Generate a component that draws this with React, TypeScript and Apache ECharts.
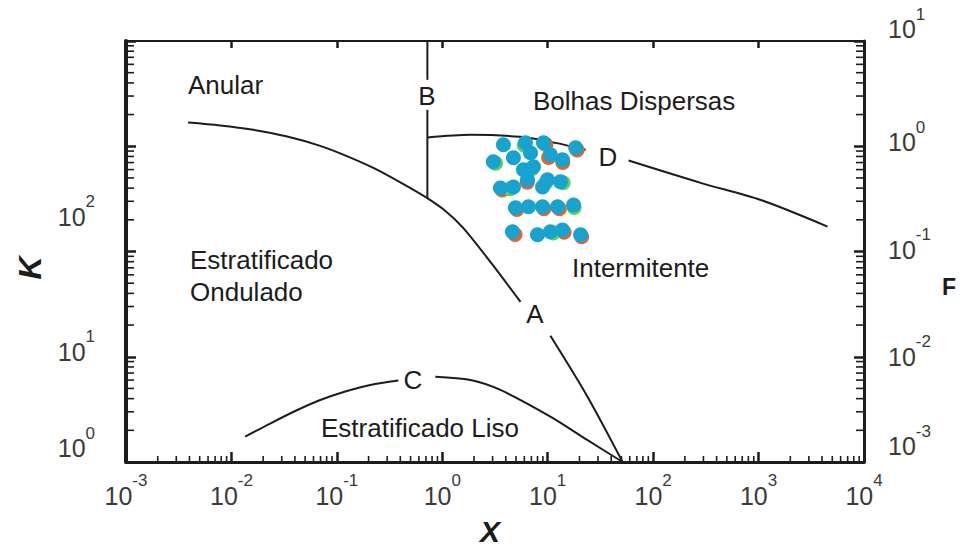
import React, { useEffect, useRef } from 'react';
import * as echarts from 'echarts';

// ---- tick label exponents ----
const xExponents = [-3, -2, -1, 0, 1, 2, 3, 4];
const kExponents = [0, 1, 2];
const fExponents = [-3, -2, -1, 0, 1];

// ---- boundary curves [X, K] ----
const curveAUpper = [[0.00388, 1680], [0.00781, 1577], [0.0161, 1432], [0.033, 1242], [0.0695, 1009], [0.1227, 811], [0.222, 623], [0.4, 454], [0.69, 330], [1.07, 243], [1.585, 167], [2.86, 79.6], [5.52, 33.2]];
const curveALower = [[10.6, 15.8], [23.9, 4.15], [51.3, 1]];
const curveBUpper = [[0.722, 10000], [0.722, 4277]];
const curveBLower = [[0.722, 2218], [0.722, 322]];
const curveDLeft = [[0.722, 1210], [1.85, 1283], [5.52, 1228], [11.86, 1077], [22.9, 925]];
const curveDRight = [[58.5, 731], [282, 449], [1049, 309], [4510, 172.6]];
const curveCLeft = [[0.01349, 1.74], [0.0233, 2.32], [0.0403, 3.05], [0.0695, 3.88], [0.1202, 4.68], [0.2075, 5.4], [0.383, 5.95]];
const curveCRight = [[0.859, 6.47], [1.85, 6.02], [3.56, 4.84], [10.6, 2.7], [23.7, 1.62], [51.3, 1]];

// ---- measured points [X, K] ----
const pointsOrange = [[19.0, 920], [7.0, 610], [10.2, 780], [13.9, 700], [3.7, 385], [5.1, 250], [9.2, 255], [12.9, 255], [4.9, 145], [21.0, 138], [14.3, 152], [6.4, 455], [9.6, 1040]];
const pointsGreen = [[3.2, 690], [9.5, 445], [7.1, 610], [17.8, 262], [11.3, 150], [14.0, 450], [6.0, 1020], [4.4, 395]];
const pointsCyan = [[3.8, 1031], [6.15, 1077], [9.12, 1077], [18.4, 966], [3.05, 711], [4.73, 776], [6.87, 865], [10.6, 829], [13.8, 743], [7.33, 637], [5.89, 597], [3.56, 402], [4.73, 411], [6.43, 480], [9.96, 480], [13.2, 459], [8.93, 411], [4.94, 260], [6.57, 266], [8.93, 266], [12.4, 266], [17.6, 277], [4.63, 154], [8.0, 144], [10.6, 154], [13.8, 160], [20.5, 144]];

// ---- region / curve labels ----
const regionLabels = ['Anular', 'Bolhas Dispersas', 'Estratificado\nOndulado', 'Intermitente', 'Estratificado Liso'];
const curveLetters = ['A', 'B', 'C', 'D'];

const FONT = '"Liberation Sans", Arial, sans-serif';
const INK = '#1c1c1c';
const LABEL = '#3a3a3a';

function minorValues(fromExp: number, toExp: number) {
  const out: number[] = [];
  for (let e = fromExp; e < toExp; e++) {
    for (let m = 2; m <= 9; m++) out.push(m * Math.pow(10, e));
  }
  return out;
}

function expOf(v: number) {
  return Math.round(Math.log10(v));
}
function key(e: number) {
  return e < 0 ? 'm' + -e : 'p' + e;
}

function richSet(prefix: string, shifts: Record<string, number>) {
  const r: any = {};
  Object.keys(shifts).forEach((k) => {
    const u = shifts[k];
    r[prefix + 'n' + k] = { fontSize: 25, fontFamily: FONT, color: LABEL, padding: [0, 0, 2 * u, 0] };
    r[prefix + 's' + k] = { fontSize: 17, fontFamily: FONT, color: LABEL, padding: [0, 0, 2 * u + 30, 0] };
  });
  return r;
}

const regionPos = [
  { x: 188, y: 85 },
  { x: 533, y: 101 },
  { x: 190, y: 276 },
  { x: 572, y: 268 },
  { x: 321, y: 428 },
];
const letterPos = [
  { x: 535, y: 314 },
  { x: 427, y: 96 },
  { x: 413, y: 380 },
  { x: 608, y: 157 },
];

export default function App() {
  const ref = useRef<HTMLDivElement>(null);
  useEffect(() => {
    if (!ref.current) return;
    const chart = echarts.init(ref.current, null, { renderer: 'svg' });

    const xShifts: Record<string, number> = {};
    xExponents.forEach((e) => (xShifts[key(e)] = 0));
    const kShiftVals: Record<number, number> = { 0: 14, 1: 5, 2: 35 };
    const kShifts: Record<string, number> = {};
    kExponents.forEach((e) => (kShifts[key(e)] = kShiftVals[e]));
    const fShiftVals: Record<number, number> = { 1: 12, 0: 4, [-1]: 2, [-2]: 0, [-3]: 16 };
    const fShifts: Record<string, number> = {};
    fExponents.forEach((e) => (fShifts[key(e)] = fShiftVals[e]));

    const lineSeries = (data: number[][]) => ({
      type: 'line',
      data,
      xAxisIndex: 0,
      yAxisIndex: 0,
      showSymbol: false,
      symbol: 'none',
      smooth: 0.3,
      lineStyle: { color: INK, width: 2 },
      z: 3,
    });

    const scatter = (data: number[][], color: string, z: number) => ({
      type: 'scatter',
      data,
      xAxisIndex: 0,
      yAxisIndex: 0,
      symbol: 'circle',
      symbolSize: 15,
      itemStyle: { color, opacity: 1 },
      z,
    });

    const tickStyle = { stroke: INK, lineWidth: 1.6 };

    // minor log ticks, placed through the axes' own scales
    const bottomTicks = {
      type: 'custom',
      xAxisIndex: 0,
      yAxisIndex: 0,
      data: minorValues(-3, 4).map((v) => [v, 1]),
      encode: { x: 0, y: 1 },
      silent: true,
      clip: false,
      z: 5,
      renderItem: (params: any, api: any) => {
        const cs = params.coordSys;
        const p = api.coord([api.value(0), 1]);
        const yb = cs.y + cs.height;
        return { type: 'line', shape: { x1: p[0], y1: yb, x2: p[0], y2: yb - 6 }, style: tickStyle };
      },
    };
    const leftTicks = {
      type: 'custom',
      xAxisIndex: 0,
      yAxisIndex: 0,
      data: minorValues(0, 4).map((v) => [0.001, v]),
      encode: { x: 0, y: 1 },
      silent: true,
      clip: false,
      z: 5,
      renderItem: (params: any, api: any) => {
        const cs = params.coordSys;
        const p = api.coord([0.001, api.value(1)]);
        return { type: 'line', shape: { x1: cs.x, y1: p[1], x2: cs.x + 8, y2: p[1] }, style: tickStyle };
      },
    };
    const rightTicks = {
      type: 'custom',
      xAxisIndex: 0,
      yAxisIndex: 1,
      data: minorValues(-3, 1).map((v) => [10000, v]),
      encode: { x: 0, y: 1 },
      silent: true,
      clip: false,
      z: 5,
      renderItem: (params: any, api: any) => {
        const cs = params.coordSys;
        const p = api.coord([10000, api.value(1)]);
        const xr = cs.x + cs.width;
        return { type: 'line', shape: { x1: xr, y1: p[1], x2: xr - 8, y2: p[1] }, style: tickStyle };
      },
    };

    const graphics: any[] = [];
    regionLabels.forEach((t, i) => {
      const p = regionPos[i];
      graphics.push({
        type: 'text',
        x: p.x,
        y: p.y,
        z: 10,
        style: { text: t, font: `26px ${FONT}`, fill: INK, align: 'left', verticalAlign: 'middle', lineHeight: 32 },
      });
    });
    curveLetters.forEach((t, i) => {
      const p = letterPos[i];
      graphics.push({
        type: 'text',
        x: p.x,
        y: p.y,
        z: 10,
        style: { text: t, font: `26px ${FONT}`, fill: INK, align: 'center', verticalAlign: 'middle' },
      });
    });
    graphics.push({
      type: 'text', x: 30, y: 268, rotation: Math.PI / 2, z: 10,
      style: { text: 'K', font: `italic bold 32px ${FONT}`, fill: INK, align: 'center', verticalAlign: 'middle' },
    });
    graphics.push({
      type: 'text', x: 490, y: 516, z: 10,
      style: { text: 'X', font: `italic bold 30px ${FONT}`, fill: INK, align: 'center', verticalAlign: 'top' },
    });
    graphics.push({
      type: 'text', x: 949, y: 287, z: 10,
      style: { text: 'F', font: `bold 23px ${FONT}`, fill: INK, align: 'center', verticalAlign: 'middle' },
    });

    const option: any = {
      animation: false,
      backgroundColor: '#ffffff',
      grid: { left: 126, top: 41, width: 738, height: 421, containLabel: false, outerBoundsMode: 'none' },
      xAxis: [
        {
          type: 'log',
          logBase: 10,
          min: 0.001,
          max: 10000,
          splitNumber: 7,
          position: 'bottom',
          axisLine: { show: true, onZero: false, lineStyle: { color: INK, width: 3 } },
          axisTick: { show: true, inside: true, length: 10, lineStyle: { color: INK, width: 2.5 } },
          minorTick: { show: false },
          splitLine: { show: false },
          axisLabel: {
            show: true,
            margin: 10,
            showMinLabel: true,
            showMaxLabel: true,
            formatter: (v: number) => {
              const e = expOf(v);
              if (!xExponents.includes(e)) return '';
              return `{xn${key(e)}|10}{xs${key(e)}|${e}}`;
            },
            rich: richSet('x', xShifts),
          },
        },
        {
          type: 'log',
          logBase: 10,
          min: 0.001,
          max: 10000,
          splitNumber: 7,
          position: 'top',
          axisLine: { show: true, onZero: false, lineStyle: { color: INK, width: 2 } },
          axisTick: { show: true, inside: true, length: 7, lineStyle: { color: INK, width: 2.5 } },
          splitLine: { show: false },
          axisLabel: { show: false },
        },
      ],
      yAxis: [
        {
          type: 'log',
          logBase: 10,
          min: 1,
          max: 10000,
          splitNumber: 4,
          position: 'left',
          axisLine: { show: true, onZero: false, lineStyle: { color: INK, width: 4 } },
          axisTick: { show: true, inside: true, length: 10, lineStyle: { color: INK, width: 2.5 } },
          splitLine: { show: false },
          axisLabel: {
            show: true,
            margin: 31,
            showMinLabel: true,
            showMaxLabel: true,
            formatter: (v: number) => {
              const e = expOf(v);
              if (!kExponents.includes(e)) return '';
              return `{kn${key(e)}|10}{ks${key(e)}|${e}}`;
            },
            rich: richSet('k', kShifts),
          },
        },
        {
          type: 'log',
          logBase: 10,
          min: 0.001,
          max: 10,
          splitNumber: 4,
          position: 'right',
          axisLine: { show: true, onZero: false, lineStyle: { color: INK, width: 3 } },
          axisTick: { show: true, inside: true, length: 10, lineStyle: { color: INK, width: 2.5 } },
          splitLine: { show: false },
          axisLabel: {
            show: true,
            margin: 24,
            showMinLabel: true,
            showMaxLabel: true,
            formatter: (v: number) => {
              const e = expOf(v);
              if (!fExponents.includes(e)) return '';
              return `{fn${key(e)}|10}{fs${key(e)}|${e}}`;
            },
            rich: richSet('f', fShifts),
          },
        },
      ],
      series: [
        lineSeries(curveAUpper),
        lineSeries(curveALower),
        lineSeries(curveBUpper),
        lineSeries(curveBLower),
        lineSeries(curveDLeft),
        lineSeries(curveDRight),
        lineSeries(curveCLeft),
        lineSeries(curveCRight),
        scatter(pointsOrange, '#e8622a', 6),
        scatter(pointsGreen, '#56d453', 7),
        scatter(pointsCyan, '#17a3cf', 8),
        bottomTicks,
        leftTicks,
        rightTicks,
      ],
      graphic: graphics,
    };

    chart.setOption(option);
    return () => chart.dispose();
  }, []);

  return <div ref={ref} style={{ position: 'fixed', left: 0, top: 0, width: 962, height: 546, background: '#fff' }} />;
}
